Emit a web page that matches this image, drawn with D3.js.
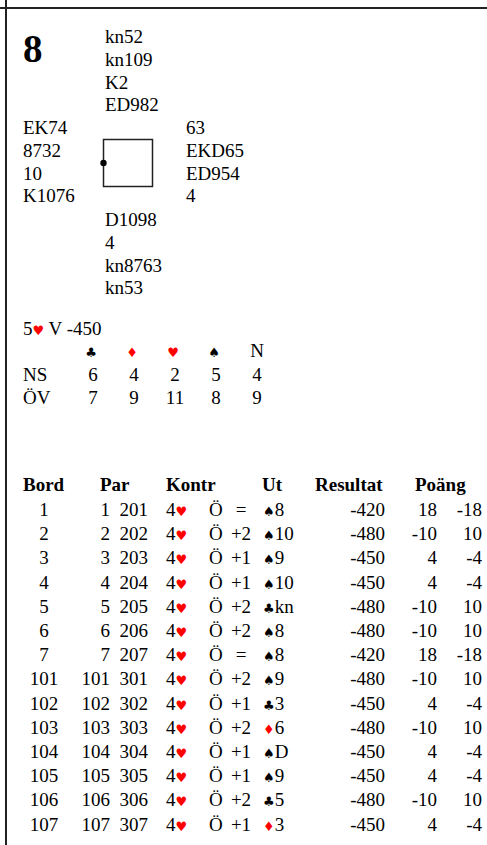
<!DOCTYPE html>
<html>
<head>
<meta charset="utf-8">
<script src="https://cdn.jsdelivr.net/npm/d3@7"></script>
<style>
  html, body { margin: 0; padding: 0; background: #fff; }
  svg { display: block; }
  svg text { font-family: 'Liberation Serif', 'Times New Roman', Tinos, 'DejaVu Serif', serif; font-size: 19px; fill: #000; }
  svg text tspan.suit, svg text.suit { font-family: 'DejaVu Sans', sans-serif; font-size: 13px; }
  .red { fill: #ff0000; }
  .bold { font-weight: bold; }
</style>
</head>
<body>
<svg id="chart" width="487" height="845" font-family="Liberation Serif, serif"></svg>
<script>
// Deal 8: hands (N, W, E, S)
var boardNo = '8';
var north = ['kn52', 'kn109', 'K2', 'ED982'];
var west = ['EK74', '8732', '10', 'K1076'];
var east = ['63', 'EKD65', 'ED954', '4'];
var south = ['D1098', '4', 'kn8763', 'kn53'];

// Par contract: level, strain, rest
var parLevel = '5';
var parStrain = 'H';
var parRest = ' V -450';

// Double dummy tricks
var strains = ['C', 'D', 'H', 'S', 'N'];
var ddRows = ['NS', 'ÖV'];
var ddNS = [6, 4, 2, 5, 4];
var ddEW = [7, 9, 11, 8, 9];

// Result table
var headers = ['Bord', 'Par', 'Kontr', 'Ut', 'Resultat', 'Poäng'];
var boards = [1, 2, 3, 4, 5, 6, 7, 101, 102, 103, 104, 105, 106, 107];
var pairNS = [1, 2, 3, 4, 5, 6, 7, 101, 102, 103, 104, 105, 106, 107];
var pairEW = [201, 202, 203, 204, 205, 206, 207, 301, 302, 303, 304, 305, 306, 307];
var contractLevel = [4, 4, 4, 4, 4, 4, 4, 4, 4, 4, 4, 4, 4, 4];
var contractStrain = ['H', 'H', 'H', 'H', 'H', 'H', 'H', 'H', 'H', 'H', 'H', 'H', 'H', 'H'];
var declarers = ['Ö', 'Ö', 'Ö', 'Ö', 'Ö', 'Ö', 'Ö', 'Ö', 'Ö', 'Ö', 'Ö', 'Ö', 'Ö', 'Ö'];
var tricks = ['=', '+2', '+1', '+1', '+2', '+2', '=', '+2', '+1', '+2', '+1', '+1', '+2', '+1'];
var leadSuit = ['S', 'S', 'S', 'S', 'C', 'S', 'S', 'S', 'C', 'D', 'S', 'S', 'C', 'D'];
var leadCard = ['8', '10', '9', '10', 'kn', '8', '8', '9', '3', '6', 'D', '9', '5', '3'];
var scores = [-420, -480, -450, -450, -480, -480, -420, -480, -450, -480, -450, -450, -480, -450];
var pointsNS = [18, -10, 4, 4, -10, -10, 18, -10, 4, -10, 4, 4, -10, 4];
var pointsEW = [-18, 10, -4, -4, 10, 10, -18, 10, -4, 10, -4, -4, 10, -4];

var SUIT = { S: '\u2660', H: '\u2665', D: '\u2666', C: '\u2663' };
var RED = { H: true, D: true };

var svg = d3.select('#chart');

// frame lines
svg.append('line').attr('x1', 0).attr('x2', 487).attr('y1', 8).attr('y2', 8)
  .attr('stroke', '#222').attr('stroke-width', 2);
svg.append('line').attr('x1', 6).attr('x2', 6).attr('y1', 0).attr('y2', 845)
  .attr('stroke', '#222').attr('stroke-width', 2);

// board number
svg.append('text').attr('class', 'bold').attr('x', 23).attr('y', 62)
  .style('font-size', '39px').text(boardNo);

// hands
var lineY = d3.scaleLinear().domain([0, 1]).range([0, 22.8]);
function drawHand(cards, x, y0) {
  svg.append('g').selectAll('text')
    .data(cards)
    .join('text')
    .attr('x', x)
    .attr('y', function (d, i) { return y0 + lineY(i); })
    .text(function (d) { return d; });
}
drawHand(north, 105, 43);
drawHand(west, 23, 134);
drawHand(east, 186, 134);
drawHand(south, 105, 226);

// table box + dealer dot
svg.append('rect').attr('x', 103.5).attr('y', 139.5).attr('width', 49).attr('height', 47)
  .attr('fill', 'none').attr('stroke', '#222').attr('stroke-width', 1.5);
svg.append('circle').attr('cx', 103.5).attr('cy', 163).attr('r', 3.2).attr('fill', '#000');

// text: plain, suit symbol, plain
function suitText(sel, before, suit, after) {
  if (before) sel.append('tspan').text(before);
  sel.append('tspan').attr('class', 'suit' + (RED[suit] ? ' red' : '')).text(SUIT[suit]);
  if (after) sel.append('tspan').text(after);
}

// par line
suitText(svg.append('text').attr('x', 23).attr('y', 335), parLevel, parStrain, parRest);

// double dummy table
var ddX = d3.scalePoint().domain(strains).range([93, 257]);
var dd = svg.append('g');
dd.selectAll('text.head')
  .data(strains)
  .join('text')
  .attr('class', function (d) { return 'head' + (SUIT[d] ? ' suit' + (RED[d] ? ' red' : '') : ''); })
  .attr('x', function (d) { return ddX(d) - (SUIT[d] ? 2 : 0); })
  .attr('y', 357)
  .attr('text-anchor', 'middle')
  .text(function (d) { return SUIT[d] || d; });
[ddNS, ddEW].forEach(function (vals, r) {
  var y = 381 + r * 23;
  dd.append('text').attr('x', 23).attr('y', y).text(ddRows[r]);
  dd.selectAll('text.v' + r)
    .data(vals)
    .join('text')
    .attr('class', 'v' + r)
    .attr('x', function (d, i) { return ddX(strains[i]); })
    .attr('y', y)
    .attr('text-anchor', 'middle')
    .text(function (d) { return d; });
});

// results table
var headX = [23, 100, 166, 262, 315, 415];
svg.append('g').selectAll('text')
  .data(headers)
  .join('text')
  .attr('class', 'bold')
  .attr('x', function (d, i) { return headX[i]; })
  .attr('y', 491)
  .text(function (d) { return d; });

var rowY = d3.scaleLinear().domain([0, boards.length - 1]).range([516, 516 + 24.2 * (boards.length - 1)]);

var rows = svg.append('g').selectAll('g')
  .data(boards)
  .join('g')
  .attr('transform', function (d, i) { return 'translate(0,' + rowY(i) + ')'; });

function cell(x, anchor, fn) {
  rows.append('text').attr('x', x).attr('text-anchor', anchor).text(fn);
}
cell(44, 'middle', function (d, i) { return boards[i]; });
cell(110, 'end', function (d, i) { return pairNS[i]; });
cell(148, 'end', function (d, i) { return pairEW[i]; });
rows.each(function (d, i) {
  var g = d3.select(this);
  suitText(g.append('text').attr('x', 166), String(contractLevel[i]), contractStrain[i], '');
  suitText(g.append('text').attr('x', 263), '', leadSuit[i], leadCard[i]);
});
cell(209, 'start', function (d, i) { return declarers[i]; });
cell(241, 'middle', function (d, i) { return tricks[i]; });
cell(385, 'end', function (d, i) { return scores[i]; });
cell(437, 'end', function (d, i) { return pointsNS[i]; });
cell(482, 'end', function (d, i) { return pointsEW[i]; });
</script>
</body>
</html>
